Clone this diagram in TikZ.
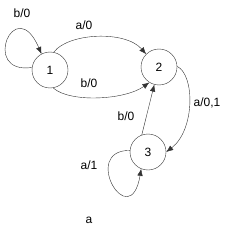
\documentclass[tikz,border=0pt]{standalone}
\usepackage{fontspec}
\setmainfont{Liberation Sans}
\usepackage{tikz}
\usetikzlibrary{arrows.meta}

\begin{document}
\begin{tikzpicture}[
  x=1pt,y=-1pt,
  state/.style={circle,draw=black!80,thin,minimum size=36pt,inner sep=0pt,font=\fontsize{12}{14}\selectfont},
  trans/.style={draw=black!80,thin,-{Latex[length=7pt,width=5.5pt]}},
  label/.style={font=\fontsize{12}{14}\selectfont,inner sep=0pt}
]
\useasboundingbox (0,0) rectangle (230,235);
\node[state] (s1) at (50,70) {1};
\node[state] (s2) at (159,67) {2};
\node[state] (s3) at (148,152) {3};
% transitions
\draw[trans] (s1.172) .. controls (-20,75) and (15,-8) .. (s1.118);
\draw[trans] (s1.78) .. controls (68,33) and (125,30) .. (s2.135);
\draw[trans] (s1.-80) .. controls (70,103) and (125,100) .. (s2.-122);
\draw[trans] (s3.110) -- (s2.-105);
\draw[trans] (s2.2) .. controls (195,75) and (195,130) .. (s3.0);
\draw[trans] (s3.175) .. controls (80,150) and (130,235) .. (s3.-112);
% labels
\node[label] (l11) at (22,13) {b/0};
\node[label] (l12a) at (84,25) {a/0};
\node[label] (l12b) at (89,83) {b/0};
\node[label] (l32) at (126,116) {b/0};
\node[label] (l23) at (207,103) {a/0,1};
\node[label] (l33) at (89,165) {a/1};
\node[label] (cap) at (89,220) {a};
\end{tikzpicture}
\end{document}
